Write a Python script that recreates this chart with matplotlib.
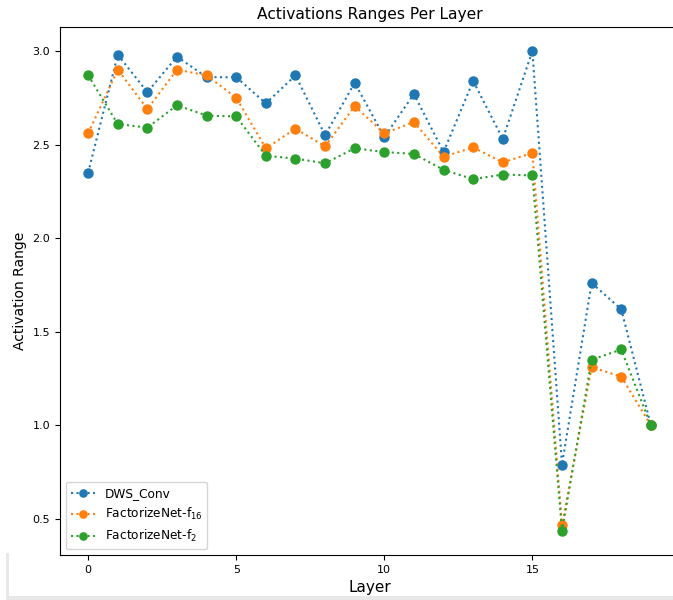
import matplotlib
matplotlib.use('Agg')
import matplotlib.pyplot as plt
from matplotlib.patches import Rectangle

layers = list(range(20))
dws_conv = [2.35, 2.98, 2.78, 2.97, 2.86, 2.86, 2.72, 2.87, 2.55, 2.83,
            2.54, 2.77, 2.46, 2.84, 2.53, 3.00, 0.79, 1.76, 1.62, 1.00]
factorize_f16 = [2.56, 2.90, 2.69, 2.90, 2.87, 2.75, 2.48, 2.585, 2.49, 2.705,
                 2.56, 2.62, 2.435, 2.485, 2.405, 2.455, 0.465, 1.31, 1.26, 1.00]
factorize_f2 = [2.87, 2.61, 2.59, 2.71, 2.655, 2.65, 2.44, 2.425, 2.40, 2.48,
                2.46, 2.45, 2.365, 2.315, 2.34, 2.335, 0.435, 1.35, 1.405, 1.00]
labels = ["DWS_Conv", r"FactorizeNet-f$_{16}$", r"FactorizeNet-f$_{2}$"]

fig = plt.figure(figsize=(6.73, 6.0), dpi=100)
# axes runs slightly past the right edge of the figure, so the right spine is cut off
ax = fig.add_axes([60 / 673, 45 / 600, 619 / 673, 528 / 600])

for series, label in zip([dws_conv, factorize_f16, factorize_f2], labels):
    ax.plot(layers, series, linestyle=":", marker="o", markersize=6.5,
            linewidth=1.5, label=label)

ax.set_title("Activations Ranges Per Layer", fontsize=11.2)
ax.set_xlabel("Layer", fontsize=11)
ax.set_ylabel("Activation Range", fontsize=10)
ax.set_xticks([0, 5, 10, 15])
ax.set_yticks([0.5, 1.0, 1.5, 2.0, 2.5, 3.0])
ax.tick_params(labelsize=8)
ax.legend(loc="lower left", fontsize=8.7, markerscale=0.8)

# light grey frame along the bottom-left edge
fig.add_artist(Rectangle((6 / 673, 0), 667 / 673, 4 / 600,
                         transform=fig.transFigure, color="#e8e8e8", lw=0))
fig.add_artist(Rectangle((6 / 673, 0), 3 / 673, 47 / 600,
                         transform=fig.transFigure, color="#e8e8e8", lw=0))

fig.savefig("out.png", dpi=100)
plt.close(fig)
